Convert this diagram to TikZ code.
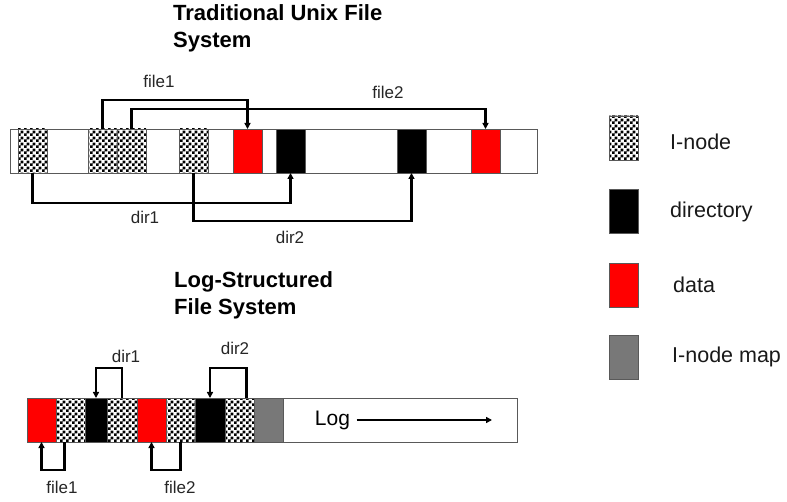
\documentclass[tikz,border=0pt]{standalone}
\usepackage{fontspec}
\setmainfont{Liberation Sans}
\usepackage{tikz}
\usetikzlibrary{arrows.meta,patterns}
\pgfdeclarepatternformonly{chequer}{\pgfpointorigin}{\pgfqpoint{6pt}{6pt}}{\pgfqpoint{6pt}{6pt}}{%
  \pgfpathrectangle{\pgfpointorigin}{\pgfqpoint{3.05pt}{3.05pt}}%
  \pgfpathrectangle{\pgfqpoint{3pt}{3pt}}{\pgfqpoint{3.05pt}{3.05pt}}%
  \pgfusepath{fill}}
\tikzset{%
  tipL/.tip={Triangle[length=6pt,width=6pt]},
  blk/.style={draw=black!65, line width=.8pt, minimum width=29pt, minimum height=44pt, inner sep=0pt, outer sep=0pt, anchor=north west},
  inode/.style={blk, pattern=chequer},
  dirb/.style={blk, fill=black},
  datab/.style={blk, fill=red},
  mapb/.style={blk, fill=black!53},
  link/.style={black, line width=2.4pt, -tipL},
  lbl/.style={font=\fontsize{17}{20}\selectfont, text=black!85},
  key/.style={font=\fontsize{21.5}{26}\selectfont, text=black!90, anchor=west, inner sep=0pt},
  heading/.style={font=\fontsize{22}{27}\selectfont\bfseries, align=left, anchor=north west, inner sep=0pt}
}

\begin{document}
\begin{tikzpicture}[x=1pt,y=-1pt]
\useasboundingbox (0,0) rectangle (787,502);
\node[heading] (ttl1) at (173,4) {Traditional Unix File\\System};
\node[heading] (ttl2) at (174,271) {Log-Structured\\File System};
% traditional disk
\node[blk, minimum width=527pt, fill=white] (uxdisk) at (10,129) {};
\node[inode] (ui1) at (18,129) {};
\node[inode] (ui2) at (88,129) {};
\node[inode] (ui3) at (117,129) {};
\node[inode] (ui4) at (179,129) {};
\node[datab] (ud1) at (233,129) {};
\node[dirb] (ur1) at (276,129) {};
\node[dirb] (ur2) at (397,129) {};
\node[datab] (ud2) at (471,129) {};
\draw[link] (ui2.north) -- ++(0,-29) -| (ud1.north);
\draw[link] (ui3.north) -- ++(0,-20) -| (ud2.north);
\draw[link] (ui1.south) -- ++(0,30) -| (ur1.south);
\draw[link] (ui4.south) -- ++(0,48) -| (ur2.south);
\node[lbl] (uf1) at (159,81) {file1};
\node[lbl] (uf2) at (388,92) {file2};
\node[lbl] (udr1) at (145,217) {dir1};
\node[lbl] (udr2) at (290,237) {dir2};
% log-structured disk
\node[blk, minimum width=490pt, fill=white] (lfsdisk) at (27,398) {};
\node[datab] (lr1) at (27,398) {};
\node[inode] (li1) at (lr1.north east) {};
\node[dirb, minimum width=22pt] (lb1) at (li1.north east) {};
\node[inode, minimum width=30pt] (li2) at (lb1.north east) {};
\node[datab] (lr2) at (li2.north east) {};
\node[inode] (li3) at (lr2.north east) {};
\node[dirb, minimum width=30pt] (lb2) at (li3.north east) {};
\node[inode] (li4) at (lb2.north east) {};
\node[mapb] (lm) at (li4.north east) {};
\draw[link] (li2.north) -- ++(0,-30) -| (lb1.north);
\draw[link] ([xshift=7pt]li4.north) -- ++(0,-30) -| (lb2.north);
\draw[link] ([xshift=-6pt]li1.south) -- ++(0,28) -| (lr1.south);
\draw[link] (li3.south) -- ++(0,28) -| (lr2.south);
\node[lbl] (ldr1) at (126,356) {dir1};
\node[lbl] (ldr2) at (235,348) {dir2};
\node[lbl] (lf1) at (62,487) {file1};
\node[lbl] (lf2) at (180,487) {file2};
\node[font=\fontsize{21}{25}\selectfont, anchor=base] (logtxt) at (332.5,425) {Log};
\coordinate (logend) at (492,420);
\draw[line width=1.7pt, -tipL] ([xshift=3pt]logtxt.east |- logend) -- (logend);
% legend
\node[inode] (kinode) at (609,116) {};
\node[dirb] (kdir) at (609,189) {};
\node[datab] (kdata) at (609,263) {};
\node[mapb] (kmap) at (609,335) {};
\node[key] (kt1) at (670,142) {I-node};
\node[key] (kt2) at (670,212) {directory};
\node[key] (kt3) at (673,285) {data};
\node[key] (kt4) at (672,357) {I-node map};
\end{tikzpicture}
\end{document}
